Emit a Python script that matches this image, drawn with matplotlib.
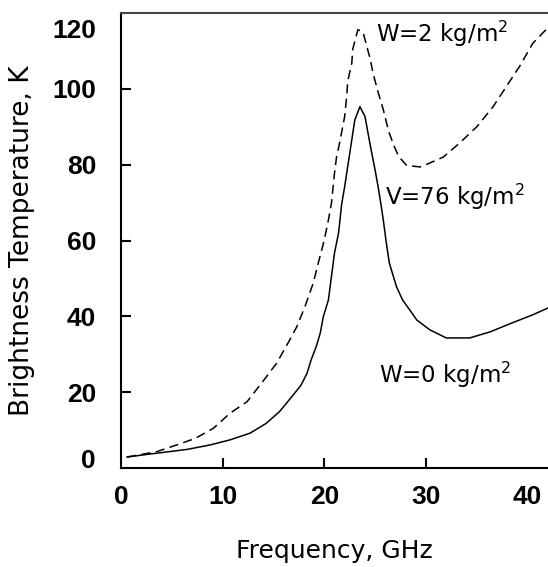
import matplotlib
matplotlib.use("Agg")
import matplotlib.pyplot as plt
import matplotlib.transforms as mtransforms

# W = 2 kg/m2 (dashed, upper)
freq_w2 = [0.6, 3.5, 5.5, 7.3, 9.1, 10.7, 12.4, 13.8, 15.3, 16.6, 17.3, 18.1, 18.9,
           19.4, 20.0, 20.4, 20.7, 21.0, 21.2, 21.5, 22.0, 22.2, 22.3, 22.7, 22.8,
           23.3, 23.8, 24.1, 24.5, 24.8, 25.3, 25.8, 26.3, 26.8, 27.3, 28.1,
           29.4, 30.0, 31.7, 33.3, 35.0, 36.6, 37.9, 39.2, 40.5, 41.8]
tb_w2 = [2.9, 4.3, 6.1, 7.8, 10.5, 14.4, 17.5, 22.3, 27.6, 33.8, 37.3, 42.6, 48.7,
         54.0, 60.2, 65.4, 69.8, 77.8, 82.0, 85.7, 92.7, 98.0, 102.0, 106.8, 110.5,
         115.6, 115.0, 112.0, 108.0, 104.0, 99.0, 94.5, 89.0, 85.3, 82.2, 79.8,
         79.4, 80.0, 82.0, 85.7, 90.0, 95.3, 100.6, 105.9, 112.0, 115.6]

# W = 0 kg/m2 (solid, lower)
freq_w0 = [0.6, 2.9, 6.5, 8.8, 10.7, 12.7, 14.3, 15.6, 16.8, 17.7, 18.3, 18.7, 19.2,
           19.6, 19.9, 20.4, 20.7, 21.0, 21.4, 21.7, 22.0, 22.3, 22.5, 22.8, 23.0,
           23.5, 24.0, 24.3, 24.6, 25.0, 25.3, 25.6, 25.8, 26.1, 26.4, 27.1, 27.7,
           28.4, 29.1, 30.4, 32.0, 34.3, 36.3, 38.5, 40.5, 42.0]
tb_w0 = [2.9, 3.7, 4.9, 6.1, 7.4, 9.2, 11.8, 14.9, 18.8, 21.8, 25.0, 28.5, 32.0,
         35.6, 39.9, 44.3, 50.5, 56.7, 62.0, 69.5, 74.2, 79.5, 83.0, 88.3, 91.8,
         95.3, 92.7, 88.3, 83.9, 78.5, 74.0, 69.0, 65.4, 59.3, 54.0, 47.8, 44.3,
         41.7, 39.0, 36.4, 34.3, 34.3, 35.9, 38.3, 40.4, 42.2]

x_ticks = [0, 10, 20, 30, 40]
y_ticks = [0, 20, 40, 60, 80, 100, 120]

labels = ["W=2 kg/m$^2$", "V=76 kg/m$^2$", "W=0 kg/m$^2$"]
label_pos = [(25.1, 112.5), (26.0, 69.5), (25.4, 22.5)]

plt.rcParams['mathtext.default'] = 'regular'
plt.rcParams['font.family'] = ['DejaVu Sans']

fig = plt.figure(figsize=(5.48, 5.67), dpi=100)
ax = fig.add_axes([121 / 548, 99 / 567, 1 - 121 / 548, 455 / 567])

ax.plot(freq_w2, tb_w2, color='black', lw=1.1, dashes=(6, 3.5))
ax.plot(freq_w0, tb_w0, color='black', lw=1.1)

for txt, (fx, ty) in zip(labels, label_pos):
    ax.text(fx, ty, txt, fontsize=16.5, ha='left', va='baseline')

ax.set_xlim(0, 42)
ax.set_ylim(0, 120)
ax.spines['right'].set_visible(False)
for s in ['left', 'bottom', 'top']:
    ax.spines[s].set_linewidth(1.5)
ax.spines['top'].set_color('#444444')

tick_font = dict(family=['Liberation Sans Narrow', 'Liberation Sans'], weight='bold', size=19)
ax.set_xticks(x_ticks)
ax.set_xticklabels([str(v) for v in x_ticks], **tick_font)
ax.set_yticks(y_ticks)
ax.set_yticklabels([str(v) for v in y_ticks], **tick_font)
ax.tick_params(direction='in', length=7.5, width=1.5)
ax.tick_params(axis='x', pad=12)
ax.tick_params(axis='y', pad=18)

# no tick marks at the ends, labels pulled inward
for t in [ax.xaxis.get_major_ticks()[0], ax.xaxis.get_major_ticks()[-1]]:
    t.tick1line.set_visible(False)
yt = ax.yaxis.get_major_ticks()
yt[0].tick1line.set_visible(False)
yt[-1].tick1line.set_visible(False)
yt[0].label1.set_transform(yt[0].label1.get_transform() +
                           mtransforms.ScaledTranslation(0, 10 / 100, fig.dpi_scale_trans))
yt[-1].label1.set_transform(yt[-1].label1.get_transform() +
                            mtransforms.ScaledTranslation(0, -15 / 100, fig.dpi_scale_trans))

ax.set_xlabel('Frequency, GHz', fontsize=18, labelpad=22)
ax.set_ylabel('Brightness Temperature, K', fontsize=19, labelpad=12)

fig.savefig('out.png', dpi=100)
